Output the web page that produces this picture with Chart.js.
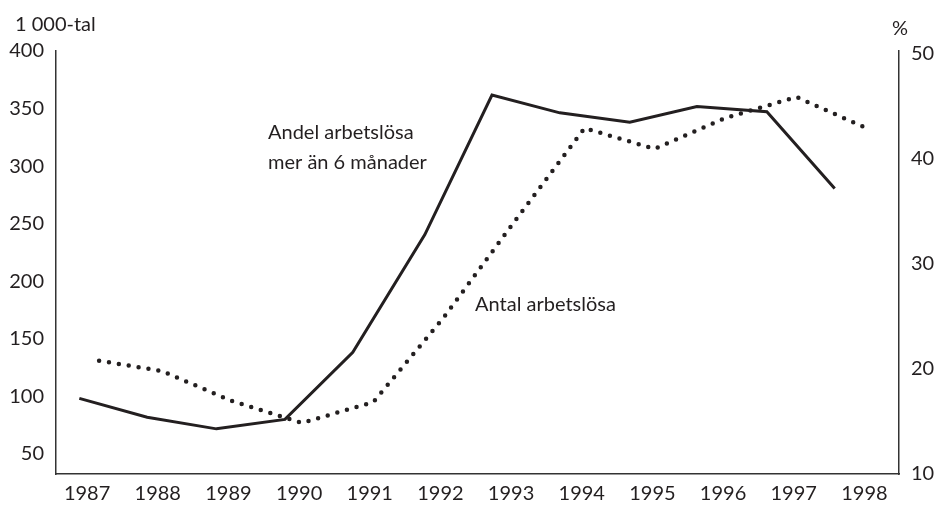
<!DOCTYPE html>
<html>
<head>
<meta charset="utf-8">
<script src="https://cdn.jsdelivr.net/npm/chart.js@4"></script>
<style>
  html, body { margin: 0; padding: 0; background: #fff; }
  #wrap { width: 940px; height: 506px; }
</style>
</head>
<body>
<div id="wrap"><canvas id="chart" width="940" height="506"></canvas></div>
<script>
// tick labels
const years = [1987, 1988, 1989, 1990, 1991, 1992, 1993, 1994, 1995, 1996, 1997, 1998];
const leftTicks = [50, 100, 150, 200, 250, 300, 350, 400];
const rightTicks = [10, 20, 30, 40, 50];

// Antal arbetslösa, 1 000-tal (dotted, left axis)
const antalX = [1987.17, 1988.06, 1989.05, 1990.04, 1991.05, 1992.04, 1993.05, 1994.04, 1995.03, 1996.04, 1997.04, 1998.03];
const antal = [131, 122, 96, 77, 95, 168, 252, 333, 315, 342, 360, 333];

// Andel arbetslösa mer än 6 månader, % (solid, right axis)
const andelX = [1986.89, 1987.85, 1988.83, 1989.80, 1990.76, 1991.78, 1992.73, 1993.69, 1994.68, 1995.63, 1996.62, 1997.58];
const andel = [17.2, 15.4, 14.3, 15.2, 21.6, 32.8, 46.1, 44.4, 43.5, 45.0, 44.5, 37.2];

const ink = '#231f20';
const font = { family: 'Lato, "Open Sans", sans-serif', size: 20 };

// text labels drawn on the canvas
const notes = {
  id: 'notes',
  afterDraw(chart) {
    const { ctx, scales: { x, yL } } = chart;
    ctx.save();
    ctx.fillStyle = ink;
    ctx.font = '20px Lato, "Open Sans", sans-serif';
    ctx.textBaseline = 'middle';
    ctx.textAlign = 'left';
    ctx.fillText('Andel arbetslösa', x.getPixelForValue(1989.56), yL.getPixelForValue(329));
    ctx.fillText('mer än 6 månader', x.getPixelForValue(1989.56), yL.getPixelForValue(303));
    ctx.fillText('Antal arbetslösa', x.getPixelForValue(1992.49), yL.getPixelForValue(180));
    ctx.fillText('1 000-tal', 15, 25);
    ctx.textAlign = 'center';
    ctx.fillText('%', 900, 29);
    ctx.restore();
  }
};

new Chart(document.getElementById('chart'), {
  type: 'line',
  data: {
    datasets: [
      {
        label: 'Andel arbetslösa mer än 6 månader',
        data: andelX.map((v, i) => ({ x: v, y: andel[i] })),
        yAxisID: 'yR',
        borderColor: ink,
        borderWidth: 3,
        pointRadius: 0,
        tension: 0,
        borderJoinStyle: 'miter'
      },
      {
        label: 'Antal arbetslösa',
        data: antalX.map((v, i) => ({ x: v, y: antal[i] })),
        yAxisID: 'yL',
        borderColor: ink,
        borderWidth: 4.5,
        borderDash: [0, 10],
        borderCapStyle: 'round',
        pointRadius: 0,
        tension: 0
      }
    ]
  },
  options: {
    responsive: false,
    animation: false,
    layout: { padding: { top: 51, left: 0, right: 0, bottom: 0 } },
    plugins: { legend: { display: false }, tooltip: { enabled: false } },
    scales: {
      x: {
        type: 'linear',
        min: 1986.56,
        max: 1998.49,
        afterBuildTicks: (s) => { s.ticks = years.map(v => ({ value: v })); },
        afterFit: (s) => { s.height = 32; },
        grid: { drawOnChartArea: false, drawTicks: false },
        border: { color: '#333', width: 1.5 },
        ticks: { color: ink, font, padding: 8, maxRotation: 0, autoSkip: false, callback: (v) => String(v) }
      },
      yL: {
        position: 'left',
        min: 32.6,
        max: 400,
        afterBuildTicks: (s) => { s.ticks = leftTicks.map(v => ({ value: v })); },
        afterFit: (s) => { s.width = 56; },
        grid: { drawOnChartArea: false, drawTicks: false },
        border: { color: '#333', width: 1.5 },
        ticks: { color: ink, font, padding: 12, callback: (v) => String(v) }
      },
      yR: {
        position: 'right',
        min: 10,
        max: 50.29,
        afterBuildTicks: (s) => { s.ticks = rightTicks.map(v => ({ value: v })); },
        afterFit: (s) => { s.width = 41; },
        grid: { drawOnChartArea: false, drawTicks: false },
        border: { color: '#333', width: 1.5 },
        ticks: { color: ink, font, padding: 12, callback: (v) => String(v) }
      }
    }
  },
  plugins: [notes]
});
</script>
</body>
</html>
